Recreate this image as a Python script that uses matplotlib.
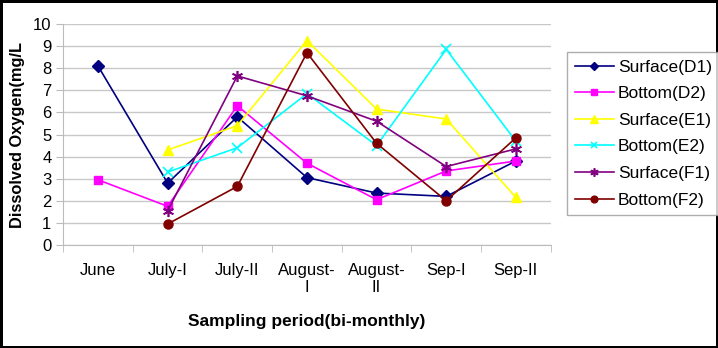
import numpy as np
import matplotlib.pyplot as plt

plt.rcParams['font.family'] = ['Liberation Sans', 'DejaVu Sans']

periods = ['June', 'July-I', 'July-II', 'August-\nI', 'August-\nII', 'Sep-I', 'Sep-II']
nan = np.nan

surface_d1 = [8.1, 2.8, 5.8, 3.05, 2.35, 2.2, 3.8]
bottom_d2 = [2.95, 1.75, 6.3, 3.7, 2.05, 3.35, 3.8]
surface_e1 = [nan, 4.3, 5.4, 9.25, 6.15, 5.7, 2.15]
bottom_e2 = [nan, 3.3, 4.4, 6.85, 4.5, 8.85, 4.7]
surface_f1 = [nan, 1.55, 7.65, 6.75, 5.6, 3.55, 4.35]
bottom_f2 = [nan, 0.95, 2.65, 8.7, 4.6, 2.0, 4.85]

fig = plt.figure(figsize=(7.18, 3.48), dpi=100)
fig.patch.set_edgecolor('black')
fig.patch.set_linewidth(2.5)
ax = fig.add_axes([0.088, 0.296, 0.679, 0.635])

x = np.arange(len(periods))
ax.plot(x, surface_d1, color='#000080', marker='D', ms=6, lw=1.2, label='Surface(D1)')
ax.plot(x, bottom_d2, color='#FF00FF', marker='s', ms=6, lw=1.2, label='Bottom(D2)')
ax.plot(x, surface_e1, color='#FFFF00', marker='^', ms=7.5, lw=1.2, label='Surface(E1)')
ax.plot(x, bottom_e2, color='#00FFFF', marker='x', ms=6.5, mew=1.2, lw=1.2, label='Bottom(E2)')
ax.plot(x, surface_f1, color='#800080', marker=(6, 2, 0), ms=8, mew=1.2, lw=1.2, label='Surface(F1)')
ax.plot(x, bottom_f2, color='#800000', marker='o', ms=6.5, lw=1.2, label='Bottom(F2)')

ax.set_xlim(-0.5, 6.5)
ax.set_ylim(0, 10)
ax.set_yticks(range(0, 11))
ax.set_xticks(x)
ax.set_xticklabels(periods, fontsize=12)
ax.set_xticks(np.arange(-0.5, 7, 1), minor=True)
ax.tick_params(axis='x', which='major', length=0, pad=13)
ax.tick_params(axis='x', which='minor', length=5, color='#bbbbbb')
ax.tick_params(axis='y', labelsize=12, length=5, color='#bbbbbb')
ax.grid(True, axis='y', color='#c8c8c8', lw=1)
ax.set_axisbelow(True)
for s in ['top', 'right']:
    ax.spines[s].set_visible(False)
ax.spines['left'].set_color('#bbbbbb')
ax.spines['bottom'].set_color('#bbbbbb')

ax.set_xlabel('Sampling period(bi-monthly)', fontsize=12.5, fontweight='bold', labelpad=13)
ax.set_ylabel('Dissolved Oxygen(mg/L', fontsize=11.8, fontweight='bold', labelpad=6)

leg = ax.legend(loc='upper left', bbox_to_anchor=(1.033, 0.875), fontsize=12.5,
                frameon=True, fancybox=False, edgecolor='#999999', borderpad=0.45,
                labelspacing=0.66, handlelength=2.25, handletextpad=0.25, borderaxespad=0,
                markerscale=0.75)
leg.get_frame().set_linewidth(1)

fig.savefig('out.png', dpi=100)
